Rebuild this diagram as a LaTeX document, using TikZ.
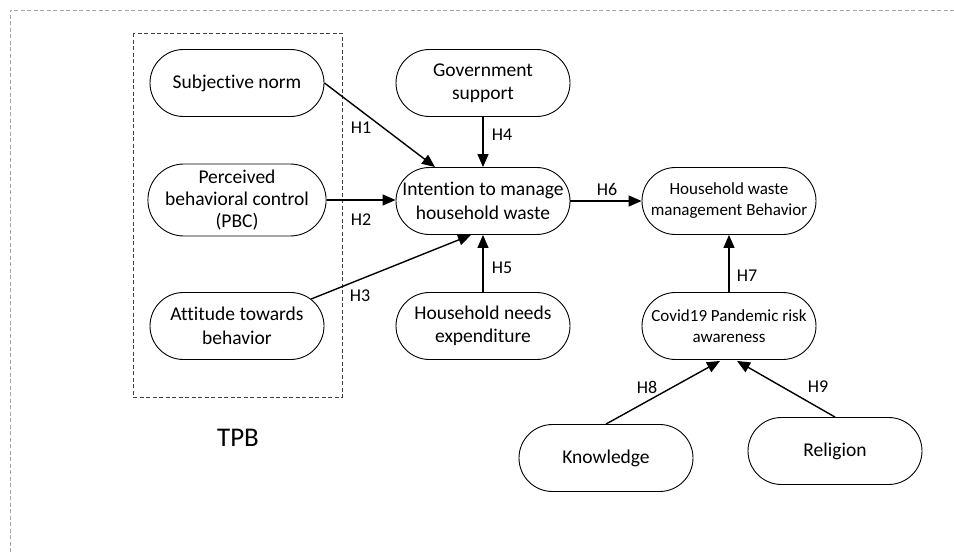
\documentclass[tikz,border=0pt]{standalone}
\usepackage{fontspec}
\setmainfont{Carlito}[Ligatures=NoCommon]
\usetikzlibrary{shapes.misc,arrows.meta,calc}
\tikzset{
  var/.style={draw=black, line width=0.9pt, rounded rectangle, minimum width=176pt, minimum height=67pt, align=center, inner sep=1pt, font=\fontsize{19.5}{23.5}\selectfont},
  varsmall/.style={var, font=\fontsize{17}{21}\selectfont},
  hyp/.style={font=\fontsize{18}{21}\selectfont, inner sep=0pt},
  link/.style={draw=black, line width=1.4pt, -{Triangle[length=13pt,width=11pt]}},
  frame/.style={draw=black!35, line width=0.8pt, dash pattern=on 4pt off 2.5pt},
  tpbbox/.style={draw=black!75, line width=0.7pt, dash pattern=on 4pt off 2.5pt}
}
\begin{document}
\begin{tikzpicture}[x=1pt,y=-1pt]
\useasboundingbox (0,0) rectangle (954,554);
\fill[white] (0,0) rectangle (954,554);
% outer frame (cut at the right and bottom)
\draw[frame] (954,10) -- (10,10) -- (10,554);
% TPB group box
\draw[tpbbox] (133,33) rectangle (342,397);
\node[font=\fontsize{27}{30}\selectfont] (tpb) at (238,438) {TPB};
% nodes
\node[var] (sn) at (237,83) {Subjective norm};
\node[var, minimum height=72pt, font=\fontsize{19.5}{22}\selectfont] (pbc) at (237,200) {Perceived\\behavioral control\\(PBC)};
\node[var] (att) at (237,326) {Attitude towards\\behavior};
\node[var] (gov) at (483,83) {Government\\support};
\node[var] (int) at (483,201) {Intention to manage\\household waste};
\node[var] (hne) at (483,326) {Household needs\\expenditure};
\node[varsmall] (hwb) at (729,201) {Household waste\\management Behavior};
\node[varsmall] (cov) at (729,326) {Covid19 Pandemic risk\\awareness};
\node[var] (kn) at (606,458) {Knowledge};
\node[var] (rel) at (835,451) {Religion};
% connectors
\draw[link] (sn.east) -- ($(int.north)+(-48,0)$);
\draw[link] (pbc.east) -- (pbc.east -| int.west);
\draw[link] (att.20) -- ($(int.south)+(-12,0)$);
\draw[link] (gov.south) -- (int.north);
\draw[link] (hne.north) -- (int.south);
\draw[link] (int.east) -- (hwb.west);
\draw[link] (cov.north) -- (hwb.south);
\draw[link] (kn.north) -- ($(cov.south)+(-9,1)$);
\draw[link] (rel.north) -- ($(cov.south)+(8,1)$);
% labels
\node[hyp] (h1) at (361,128) {H1};
\node[hyp] (h2) at (361,220) {H2};
\node[hyp] (h3) at (360,296) {H3};
\node[hyp] (h4) at (502,135) {H4};
\node[hyp] (h5) at (502,268) {H5};
\node[hyp] (h6) at (607,189) {H6};
\node[hyp] (h7) at (747,276) {H7};
\node[hyp] (h8) at (647,387) {H8};
\node[hyp] (h9) at (818,387) {H9};
\end{tikzpicture}
\end{document}
